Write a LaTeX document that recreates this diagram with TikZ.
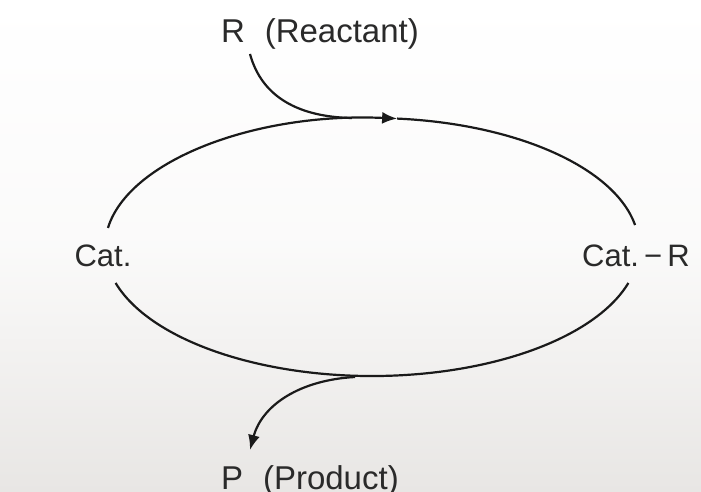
\documentclass[tikz,border=0pt]{standalone}
\usepackage{fontspec}
\setmainfont{Liberation Sans}
\usetikzlibrary{arrows.meta,calc}
\definecolor{ink}{HTML}{1A1A1A}
\definecolor{txt}{HTML}{2A2A2A}
\definecolor{bgbot}{HTML}{E8E6E4}
\begin{document}
\begin{tikzpicture}[x=1pt,y=-1pt,
  lbl/.style={inner sep=0pt,text=txt,font=\fontsize{31}{34}\selectfont},
  biglbl/.style={lbl,font=\fontsize{33}{36}\selectfont},
  cyc/.style={draw=ink,line width=2.2pt},
  tip/.style={-{Latex[length=15pt,width=12pt]}}]
\shade[top color=white,bottom color=bgbot,middle color=white!80!bgbot] (0,0) rectangle (701,492);
\useasboundingbox (0,0) rectangle (701,492);
% labels
\node[lbl,anchor=base] (cat) at (103,266) {Cat.};
\node[lbl,anchor=base] (catr) at (636,266) {Cat.\,−\,R};
\node[biglbl,anchor=base] (r) at (320,43) {R\hspace{0.6em}(Reactant)};
\node[biglbl,anchor=base] (p) at (310,489) {P\hspace{0.6em}(Product)};
% ellipse centre
\coordinate (o) at (372,247);
% upper arc with arrow
\draw[cyc,tip] (o) ++(171.5:267 and -129) arc[start angle=171.5,end angle=84.6,x radius=267,y radius=-129];
\draw[cyc] (o) ++(84.6:267 and -129) arc[start angle=84.6,end angle=9.8,x radius=267,y radius=-129];
% lower arc
\draw[cyc] (o) ++(196.2:267 and -129) arc[start angle=196.2,end angle=343.8,x radius=267,y radius=-129];
% reactant in
\coordinate (rin) at (250,54);
\coordinate (join) at (352,118);
\draw[cyc] (rin) .. controls (262,98) and (300,117) .. (join);
% product out
\coordinate (split) at (355,377);
\coordinate (pout) at (250,450);
\draw[cyc,tip] (split) .. controls (300,380) and (262,405) .. (pout);
\end{tikzpicture}
\end{document}
